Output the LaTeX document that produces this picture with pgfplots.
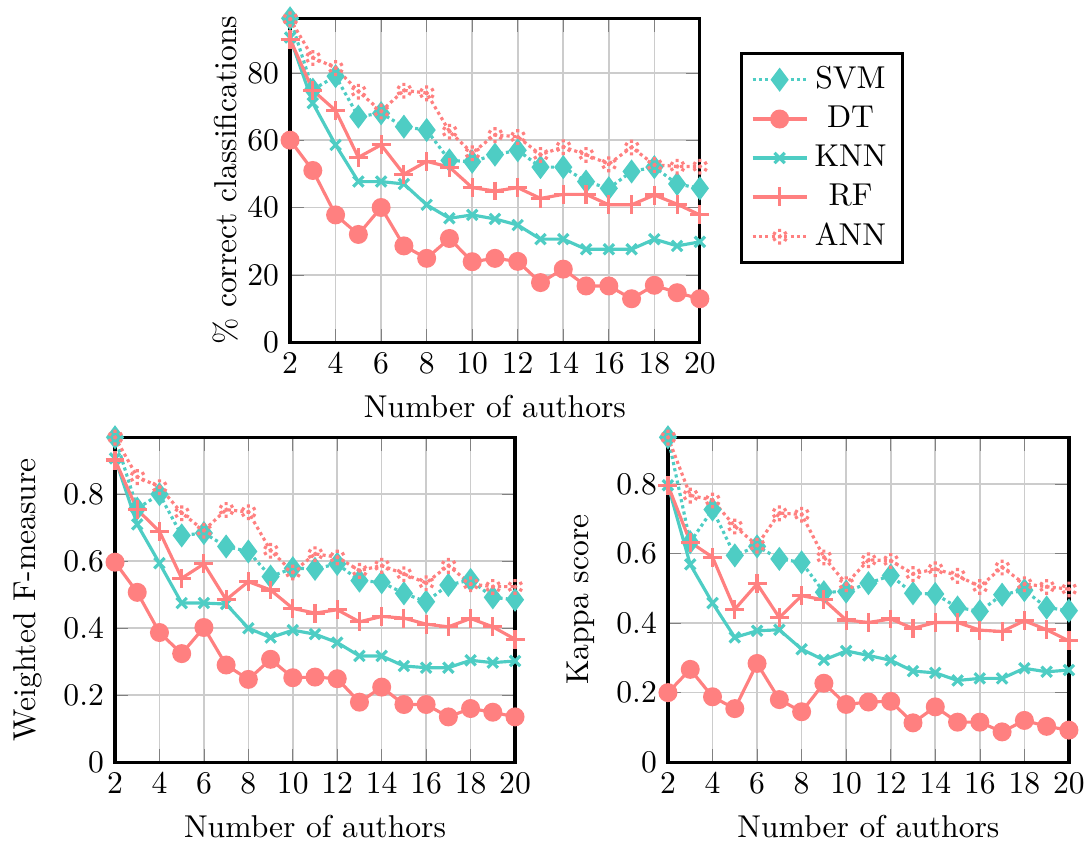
\documentclass[border=0pt]{standalone}
\usepackage{pgfplots}
\pgfplotsset{compat=1.18}
\definecolor{tealc}{RGB}{78,205,196}
\definecolor{coral}{RGB}{255,128,128}
\pgfplotsset{
  base/.style={
    scale only axis,
    xmin=2, xmax=20, ymin=0,
    xtick={2,4,...,20},
    grid=major,
    grid style={gray!40, line width=0.5pt},
    axis line style={line width=1pt},
    every axis plot/.append style={line width=1pt},
    xlabel={Number of authors},
    enlargelimits=false,
    clip=false,
  },
  svm/.style={tealc, densely dotted, mark=diamond*, mark size=3pt, mark options={solid, fill=tealc}},
  dt/.style={coral, solid, mark=*, mark size=2.5pt, mark options={fill=coral}},
  knn/.style={tealc, solid, mark=x, mark size=2.3pt},
  rf/.style={coral, solid, mark=+, mark size=3pt},
  ann/.style={coral, densely dotted, mark=asterisk, mark size=2.6pt},
}
\begin{document}
\begin{tikzpicture}
\useasboundingbox (0,0) rectangle (343.7pt,266.8pt);
% Top
\begin{axis}[base, at={(91.8pt,158.5pt)}, anchor=south west,
  width=129.7pt, height=102.5pt,
  ytick={0,20,40,60,80},
  ylabel={\% correct classifications},
  ylabel shift=-4pt,
  legend cell align=center,
  legend style={at={(1.098,0.896)}, anchor=north west, draw=black, line width=1pt, font=\normalsize},
]
\addplot[svm] coordinates {(2,96.2)(3,75)(4,79)(5,67)(6,68)(7,64)(8,63)(9,54)(10,53.6)(11,55.7)(12,57)(13,52)(14,52)(15,47.7)(16,45.7)(17,50.7)(18,52)(19,47)(20,45.7)};
\addlegendentry{SVM}
\addplot[dt] coordinates {(2,60)(3,51)(4,37.8)(5,32)(6,40)(7,28.6)(8,24.9)(9,30.8)(10,23.9)(11,24.9)(12,24)(13,17.7)(14,21.7)(15,16.7)(16,16.7)(17,12.9)(18,16.9)(19,14.7)(20,12.9)};
\addlegendentry{DT}
\addplot[knn] coordinates {(2,90.5)(3,71)(4,58.6)(5,47.7)(6,47.7)(7,47)(8,40.8)(9,36.8)(10,37.8)(11,36.6)(12,34.8)(13,30.6)(14,30.6)(15,27.6)(16,27.6)(17,27.6)(18,30.6)(19,28.6)(20,29.8)};
\addlegendentry{KNN}
\addplot[rf] coordinates {(2,90)(3,74.8)(4,68.8)(5,54.9)(6,58.6)(7,49.9)(8,53.7)(9,52)(10,45.9)(11,44.9)(12,45.9)(13,42.7)(14,43.9)(15,43.9)(16,40.8)(17,40.8)(18,43.7)(19,41)(20,37.8)};
\addlegendentry{RF}
\addplot[ann] coordinates {(2,96)(3,84.5)(4,81.5)(5,74.5)(6,68.6)(7,74.8)(8,74)(9,62.6)(10,56.2)(11,61.6)(12,61)(13,55.7)(14,58)(15,55.7)(16,52.9)(17,57.9)(18,52.7)(19,52.2)(20,52.2)};
\addlegendentry{ANN}
\end{axis}
% Bottom left
\begin{axis}[base, at={(36.4pt,25.6pt)}, anchor=south west,
  width=126.6pt, height=102.8pt,
  ytick={0,0.2,0.4,0.6,0.8},
  yticklabels={0,0.2,0.4,0.6,0.8},
  ylabel={Weighted F-measure},
]
\addplot[svm] coordinates {(2,0.97)(3,0.757)(4,0.80)(5,0.677)(6,0.684)(7,0.644)(8,0.629)(9,0.554)(10,0.579)(11,0.577)(12,0.592)(13,0.542)(14,0.537)(15,0.504)(16,0.479)(17,0.529)(18,0.544)(19,0.492)(20,0.485)};
\addplot[dt] coordinates {(2,0.597)(3,0.507)(4,0.387)(5,0.324)(6,0.402)(7,0.29)(8,0.247)(9,0.307)(10,0.252)(11,0.254)(12,0.249)(13,0.179)(14,0.224)(15,0.172)(16,0.172)(17,0.135)(18,0.16)(19,0.149)(20,0.135)};
\addplot[knn] coordinates {(2,0.907)(3,0.71)(4,0.594)(5,0.475)(6,0.475)(7,0.472)(8,0.40)(9,0.372)(10,0.394)(11,0.382)(12,0.357)(13,0.317)(14,0.317)(15,0.287)(16,0.282)(17,0.282)(18,0.304)(19,0.297)(20,0.302)};
\addplot[rf] coordinates {(2,0.902)(3,0.754)(4,0.689)(5,0.549)(6,0.592)(7,0.485)(8,0.539)(9,0.514)(10,0.459)(11,0.445)(12,0.455)(13,0.419)(14,0.435)(15,0.43)(16,0.412)(17,0.404)(18,0.429)(19,0.404)(20,0.367)};
\addplot[ann] coordinates {(2,0.97)(3,0.852)(4,0.822)(5,0.744)(6,0.692)(7,0.754)(8,0.747)(9,0.632)(10,0.567)(11,0.622)(12,0.612)(13,0.572)(14,0.587)(15,0.562)(16,0.535)(17,0.587)(18,0.532)(19,0.524)(20,0.524)};
\end{axis}
% Bottom right
\begin{axis}[base, at={(211.4pt,25.6pt)}, anchor=south west,
  width=126.9pt, height=102.8pt,
  ytick={0,0.2,0.4,0.6,0.8},
  yticklabels={0,0.2,0.4,0.6,0.8},
  ylabel={Kappa score},
]
\addplot[svm] coordinates {(2,0.935)(3,0.633)(4,0.727)(5,0.595)(6,0.621)(7,0.585)(8,0.575)(9,0.489)(10,0.491)(11,0.515)(12,0.537)(13,0.486)(14,0.484)(15,0.445)(16,0.434)(17,0.482)(18,0.495)(19,0.445)(20,0.436)};
\addplot[dt] coordinates {(2,0.2)(3,0.267)(4,0.188)(5,0.154)(6,0.284)(7,0.18)(8,0.145)(9,0.227)(10,0.166)(11,0.173)(12,0.175)(13,0.113)(14,0.159)(15,0.115)(16,0.115)(17,0.087)(18,0.12)(19,0.103)(20,0.092)};
\addplot[knn] coordinates {(2,0.797)(3,0.569)(4,0.458)(5,0.359)(6,0.378)(7,0.381)(8,0.325)(9,0.294)(10,0.32)(11,0.307)(12,0.293)(13,0.262)(14,0.257)(15,0.235)(16,0.241)(17,0.241)(18,0.27)(19,0.26)(20,0.265)};
\addplot[rf] coordinates {(2,0.797)(3,0.633)(4,0.59)(5,0.44)(6,0.513)(7,0.416)(8,0.479)(9,0.467)(10,0.409)(11,0.402)(12,0.412)(13,0.385)(14,0.402)(15,0.402)(16,0.38)(17,0.376)(18,0.407)(19,0.381)(20,0.349)};
\addplot[ann] coordinates {(2,0.935)(3,0.768)(4,0.754)(5,0.679)(6,0.624)(7,0.717)(8,0.713)(9,0.59)(10,0.513)(11,0.582)(12,0.58)(13,0.542)(14,0.556)(15,0.537)(16,0.505)(17,0.561)(18,0.513)(19,0.505)(20,0.498)};
\end{axis}
\end{tikzpicture}
\end{document}
